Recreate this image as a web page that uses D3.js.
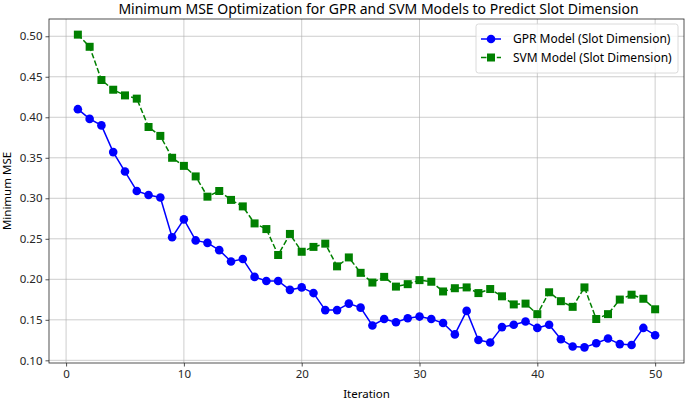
<!DOCTYPE html>
<html>
<head>
<meta charset="utf-8">
<script src="https://cdn.jsdelivr.net/npm/d3@7"></script>
<style>
  body { margin: 0; background: #fff; }
  text { font-family: "Noto Sans", "Open Sans", sans-serif; }
</style>
</head>
<body>
<div id="chart"></div>
<script>
// iteraciones 1..50
var iteraciones = d3.range(1, 51);

var gprMse = [0.410, 0.398, 0.390, 0.357, 0.333, 0.309, 0.304, 0.301, 0.252, 0.274,
              0.248, 0.245, 0.236, 0.222, 0.225, 0.203, 0.198, 0.198, 0.187, 0.190,
              0.183, 0.162, 0.162, 0.170, 0.165, 0.143, 0.151, 0.147, 0.152, 0.154,
              0.151, 0.146, 0.132, 0.161, 0.125, 0.122, 0.141, 0.144, 0.148, 0.140,
              0.144, 0.126, 0.117, 0.116, 0.121, 0.127, 0.120, 0.119, 0.140, 0.131];

var svmMse = [0.502, 0.487, 0.446, 0.434, 0.427, 0.423, 0.388, 0.377, 0.350, 0.340,
              0.327, 0.302, 0.309, 0.298, 0.290, 0.269, 0.262, 0.230, 0.256, 0.234,
              0.240, 0.244, 0.216, 0.227, 0.208, 0.196, 0.203, 0.191, 0.194, 0.199,
              0.197, 0.185, 0.189, 0.190, 0.183, 0.188, 0.179, 0.169, 0.170, 0.157,
              0.184, 0.173, 0.166, 0.190, 0.151, 0.157, 0.175, 0.181, 0.176, 0.163];

var xTicks = [0, 10, 20, 30, 40, 50];
var yTicks = [0.10, 0.15, 0.20, 0.25, 0.30, 0.35, 0.40, 0.45, 0.50];
var serieNombres = ["GPR Model (Slot Dimension)", "SVM Model (Slot Dimension)"];

var W = 685, H = 401;
var margin = {left: 49, right: 1, top: 19, bottom: 38};
var fuente = "Noto Sans, Open Sans, sans-serif";

var svg = d3.select("#chart").append("svg")
    .attr("width", W).attr("height", H);

var x = d3.scaleLinear().domain([-1.45, 52.45]).range([margin.left, W - margin.right]);
var y = d3.scaleLinear().domain([0.0967, 0.5213]).range([H - margin.bottom, margin.top]);

// grilla
svg.append("g").selectAll("line.gx").data(xTicks).enter().append("line")
    .attr("x1", d => x(d)).attr("x2", d => x(d))
    .attr("y1", margin.top).attr("y2", H - margin.bottom)
    .attr("stroke", "#b0b0b0").attr("stroke-width", 0.8).attr("stroke-opacity", 0.8);
svg.append("g").selectAll("line.gy").data(yTicks).enter().append("line")
    .attr("x1", margin.left).attr("x2", W - margin.right)
    .attr("y1", d => y(d)).attr("y2", d => y(d))
    .attr("stroke", "#b0b0b0").attr("stroke-width", 0.8).attr("stroke-opacity", 0.8);

// ejes
var xAxis = svg.append("g")
    .attr("transform", "translate(0," + (H - margin.bottom) + ")")
    .call(d3.axisBottom(x).tickValues(xTicks).tickSize(3.5).tickPadding(3).tickFormat(d3.format("d")));
var yAxis = svg.append("g")
    .attr("transform", "translate(" + margin.left + ",0)")
    .call(d3.axisLeft(y).tickValues(yTicks).tickSize(3.5).tickPadding(3).tickFormat(d3.format(".2f")));
[xAxis, yAxis].forEach(function(a) {
    a.select(".domain").remove();
    a.selectAll("text").attr("font-size", 11.5).attr("fill", "#262626")
        .style("font-family", fuente);
    a.selectAll("line").attr("stroke", "#262626").attr("stroke-width", 0.8);
});

// marco
svg.append("rect")
    .attr("x", margin.left).attr("y", margin.top)
    .attr("width", W - margin.right - margin.left)
    .attr("height", H - margin.bottom - margin.top)
    .attr("fill", "none").attr("stroke", "#262626").attr("stroke-width", 0.8);

var linea = d3.line()
    .x((d, i) => x(iteraciones[i]))
    .y(d => y(d));

// GPR
svg.append("path").datum(gprMse)
    .attr("d", linea).attr("fill", "none")
    .attr("stroke", "#0000ff").attr("stroke-width", 1.5);
svg.append("g").selectAll("circle").data(gprMse).enter().append("circle")
    .attr("cx", (d, i) => x(iteraciones[i])).attr("cy", d => y(d))
    .attr("r", 4.3).attr("fill", "#0000ff");

// SVM
svg.append("path").datum(svmMse)
    .attr("d", linea).attr("fill", "none")
    .attr("stroke", "#008000").attr("stroke-width", 1.5)
    .attr("stroke-dasharray", "5.5,2.4");
svg.append("g").selectAll("rect.sq").data(svmMse).enter().append("rect")
    .attr("x", (d, i) => x(iteraciones[i]) - 4).attr("y", d => y(d) - 4)
    .attr("width", 8).attr("height", 8).attr("fill", "#008000");

// titulos
svg.append("text").attr("x", (margin.left + W - margin.right) / 2 + 12).attr("y", 14)
    .attr("text-anchor", "middle").attr("font-size", 14).attr("fill", "#000")
    .text("Minimum MSE Optimization for GPR and SVM Models to Predict Slot Dimension");
svg.append("text").attr("x", (margin.left + W - margin.right) / 2).attr("y", 398)
    .attr("text-anchor", "middle").attr("font-size", 11.5).attr("fill", "#000")
    .text("Iteration");
svg.append("text")
    .attr("transform", "translate(11," + ((margin.top + H - margin.bottom) / 2) + ") rotate(-90)")
    .attr("text-anchor", "middle").attr("font-size", 11.5).attr("fill", "#000")
    .text("Minimum MSE");

// leyenda
var leg = svg.append("g").attr("transform", "translate(476,24)");
leg.append("rect").attr("width", 202).attr("height", 49).attr("rx", 2.5)
    .attr("fill", "#fff").attr("fill-opacity", 0.8)
    .attr("stroke", "#d0d0d0").attr("stroke-width", 0.8);
serieNombres.forEach(function(nombre, i) {
    var yy = 15 + i * 18.5;
    var g = leg.append("g");
    if (i === 0) {
        g.append("line").attr("x1", 5).attr("x2", 25).attr("y1", yy).attr("y2", yy)
            .attr("stroke", "#0000ff").attr("stroke-width", 1.5);
        g.append("circle").attr("cx", 15).attr("cy", yy).attr("r", 4.3).attr("fill", "#0000ff");
    } else {
        g.append("line").attr("x1", 5).attr("x2", 25).attr("y1", yy).attr("y2", yy)
            .attr("stroke", "#008000").attr("stroke-width", 1.5)
            .attr("stroke-dasharray", "5.5,2.4");
        g.append("rect").attr("x", 11).attr("y", yy - 4).attr("width", 8).attr("height", 8)
            .attr("fill", "#008000");
    }
    g.append("text").attr("x", 37).attr("y", yy + 4).attr("font-size", 12).attr("fill", "#000")
        .text(nombre);
});
</script>
</body>
</html>
